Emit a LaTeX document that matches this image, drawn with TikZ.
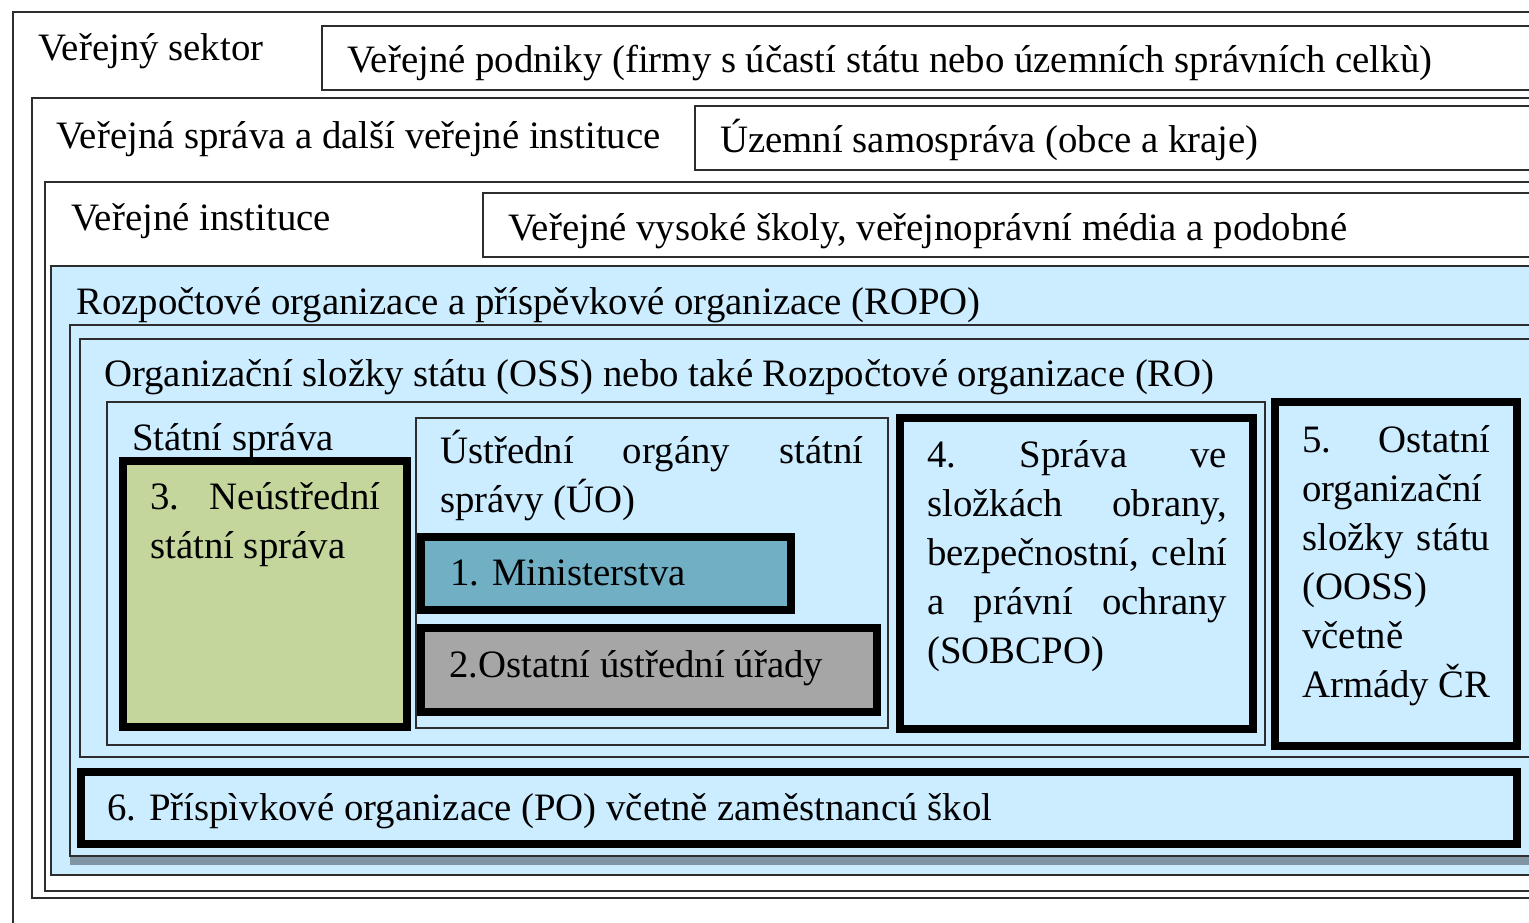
\documentclass[tikz,border=0pt]{standalone}
\usepackage{fontspec}
\setmainfont{Liberation Serif}
\usepackage{xcolor}

\definecolor{ropoblue}{RGB}{204,236,255}
\definecolor{okgreen}{RGB}{196,214,155}
\definecolor{minblue}{RGB}{113,175,196}
\definecolor{urgray}{RGB}{166,166,166}
\definecolor{shadowgray}{RGB}{128,149,164}
\definecolor{linegray}{RGB}{45,45,45}

\newcommand\fs{\fontsize{38.8}{49}\selectfont}
\newcommand\jtext[2]{\parbox[t]{#1}{\hbadness=10000 \hyphenpenalty=10000 \tolerance=10000 #2}}

\tikzset{
  thinbox/.style={draw=linegray, line width=1.6pt},
  thickbox/.style={draw=black, line width=8.5pt},
  txt/.style={anchor=base west, inner sep=0pt, font=\fs},
}

\begin{document}
\begin{tikzpicture}[x=1pt,y=1pt,yscale=-1,xscale=1]
\useasboundingbox (0,0) rectangle (1529,922);

%Shape: Rectangle [Verejny sektor]
\draw [thinbox, fill=white] (13,12) rectangle (1600,960);
%Shape: Rectangle [Verejne podniky]
\draw [thinbox, fill=white] (322,26) rectangle (1600,90);
%Shape: Rectangle [Verejna sprava]
\draw [thinbox, fill=white] (32,98) rectangle (1600,898);
%Shape: Rectangle [Uzemni samosprava]
\draw [thinbox, fill=white] (695,106) rectangle (1600,170);
%Shape: Rectangle [Verejne instituce]
\draw [thinbox, fill=white] (45,182) rectangle (1600,891);
%Shape: Rectangle [Vysoke skoly]
\draw [thinbox, fill=white] (483,193) rectangle (1600,257);
%Shape: Rectangle [ROPO]
\draw [thinbox, fill=ropoblue] (51,266) rectangle (1600,875);
%Shape: Rectangle [shadow]
\fill [shadowgray] (70,333) rectangle (1600,865);
%Shape: Rectangle [ROPO inner]
\draw [thinbox, fill=ropoblue] (70,325) rectangle (1600,856);
%Shape: Rectangle [OSS]
\draw [thinbox] (80,339) rectangle (1600,757);
%Shape: Rectangle [Statni sprava]
\draw [thinbox] (107,402) rectangle (1265,745);
%Shape: Rectangle [3]
\draw [thickbox, fill=okgreen] (123,461) rectangle (407,727);
%Shape: Rectangle [UO]
\draw [thinbox] (416,418) rectangle (888,728);
%Shape: Rectangle [1]
\draw [thickbox, fill=minblue] (421,537) rectangle (791,610);
%Shape: Rectangle [2]
\draw [thickbox, fill=urgray] (421,628) rectangle (877,712);
%Shape: Rectangle [4]
\draw [thickbox] (900,418) rectangle (1253,729);
%Shape: Rectangle [5]
\draw [thickbox] (1275,402) rectangle (1517,746);
%Shape: Rectangle [6]
\draw [thickbox] (81,772) rectangle (1517,844);

% Text Node
\node (sektor) [txt] at (38,60) {Veřejný sektor};
% Text Node
\node (podniky) [txt] at (347,72) {Veřejné podniky (firmy s účastí státu nebo územních správních celkù)};
% Text Node
\node (vsprava) [txt] at (56,148) {Veřejná správa a další veřejné instituce};
% Text Node
\node (uzemni) [txt] at (720,152) {Územní samospráva (obce a kraje)};
% Text Node
\node (instituce) [txt] at (71,230) {Veřejné instituce};
% Text Node
\node (vysoke) [txt] at (508,240) {Veřejné vysoké školy, veřejnoprávní média a podobné};
% Text Node
\node (ropo) [txt] at (76,314) {Rozpočtové organizace a příspěvkové organizace (ROPO)};
% Text Node
\node (oss) [txt] at (104,386) {Organizační složky státu (OSS) nebo také Rozpočtové organizace (RO)};
% Text Node
\node (statni) [txt] at (132,450) {Státní správa};
% Text Node
\node (neustr) [txt] at (150,509) {\jtext{230pt}{3.\ Neústřední\linebreak státní správa}};
% Text Node
\node (uo) [txt] at (440,463) {\jtext{423pt}{Ústřední orgány státní\linebreak správy (ÚO)}};
% Text Node
\node (minist) [txt] at (450,585) {1. Ministerstva};
% Text Node
\node (urady) [txt] at (449,677) {2.Ostatní ústřední úřady};
% Text Node
\node (sobcpo) [txt] at (927,467) {\jtext{300pt}{4.\ Správa ve\linebreak složkách obrany,\linebreak bezpečnostní, celní\linebreak a právní ochrany\linebreak (SOBCPO)}};
% Text Node
\node (ooss) [txt] at (1302,452) {\jtext{188pt}{5.\ Ostatní\linebreak organizační\linebreak složky státu\linebreak (OOSS)\linebreak včetně\linebreak Armády ČR}};
% Text Node
\node (po) [txt] at (107,820) {6. Příspìvkové organizace (PO) včetně zaměstnancú škol};

\end{tikzpicture}
\end{document}
